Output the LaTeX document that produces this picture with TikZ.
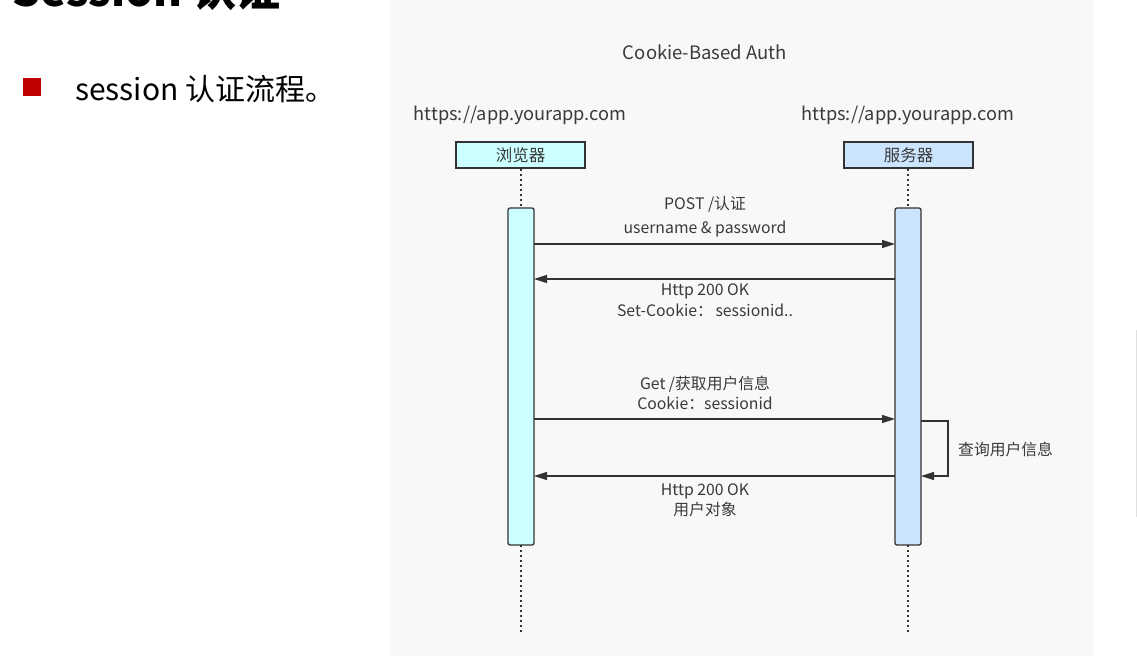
\documentclass[tikz,border=0pt]{standalone}
\usepackage{fontspec}
\setmainfont{Noto Sans CJK SC}
\usetikzlibrary{arrows.meta}
\definecolor{panel}{HTML}{F8F8F8}
\definecolor{ink}{HTML}{333333}
\definecolor{txt}{HTML}{3A3A3A}
\definecolor{cyanfill}{HTML}{CCFFFF}
\definecolor{bluefill}{HTML}{CCE5FF}
\definecolor{bulletred}{HTML}{C00000}
\tikzset{
  lbl/.style={text=txt, font=\fontsize{15.8}{18}\selectfont, inner sep=0pt},
  actor/.style={draw=ink, line width=1.3pt, minimum width=129pt, minimum height=26pt, inner sep=0pt, text=txt, font=\fontsize{16.5}{18}\selectfont},
  actbar/.style={draw=ink, line width=1.3pt, rounded corners=2pt},
  life/.style={draw=ink, line width=1.4pt, dash pattern=on 2pt off 3pt},
  msg/.style={draw=ink, line width=1.3pt, -{Triangle[length=13pt,width=8pt]}}
}
\begin{document}
\begin{tikzpicture}[x=1pt,y=-1pt]
\useasboundingbox (0,0) rectangle (1137,662);
\begin{scope}
\clip (0,0) rectangle (1137,662);
\fill[white] (0,0) rectangle (1137,662);
% partially visible heading
\node[anchor=base west, inner sep=0pt, font=\fontsize{44}{48}\selectfont\bfseries] (heading) at (12,6) {Session 认证};
\end{scope}
% panel
\fill[panel] (390,0) rectangle (1094,656);
\draw[draw=black!12, line width=1pt] (1136,330) -- (1136,517);
% bullet
\fill[bulletred] (23,78) rectangle (41,96);
\node[anchor=base west, inner sep=0pt, font=\fontsize{30}{34}\selectfont] (bullet) at (75,100) {session 认证流程。};
% title and hosts
\node[lbl, font=\fontsize{18.5}{20}\selectfont] (title) at (705,52) {Cookie-Based Auth};
\node[lbl, font=\fontsize{18.2}{20}\selectfont] (hostL) at (520,115) {https://app.yourapp.com};
\node[lbl, font=\fontsize{18.2}{20}\selectfont] (hostR) at (908,115) {https://app.yourapp.com};
% actors
\node[actor, fill=cyanfill] (browser) at (520.5,155) {浏览器};
\node[actor, fill=bluefill] (server) at (908.5,155) {服务器};
% activation bars
\draw[actbar, fill=cyanfill] (508,208) rectangle (534,545);
\draw[actbar, fill=bluefill] (895,208) rectangle (921,545);
\coordinate (bTop) at (521,208);
\coordinate (sTop) at (908,208);
\coordinate (bBot) at (521,545);
\coordinate (sBot) at (908,545);
\coordinate (bEnd) at (521,633);
\coordinate (sEnd) at (908,633);
% lifelines
\draw[life] (browser.south -| bTop) -- (bTop);
\draw[life] (server.south -| sTop) -- (sTop);
\draw[life] (bBot) -- (bEnd);
\draw[life] (sBot) -- (sEnd);
% message coordinates
\coordinate (m1a) at (534,244); \coordinate (m1b) at (895,244);
\coordinate (m2a) at (895,279); \coordinate (m2b) at (534,279);
\coordinate (m3a) at (534,419); \coordinate (m3b) at (895,419);
\coordinate (m4a) at (921,421); \coordinate (m4b) at (921,476);
\coordinate (m5a) at (895,476); \coordinate (m5b) at (534,476);
% messages
\draw[msg] (m1a) -- (m1b);
\node[lbl] (l1a) at (705,204) {POST /认证};
\node[lbl] (l1b) at (705,229) {username \& password};
\draw[msg] (m2a) -- (m2b);
\node[lbl] (l2a) at (705,291) {Http 200 OK};
\node[lbl] (l2b) at (705,310) {Set-Cookie：\,sessionid..};
\draw[msg] (m3a) -- (m3b);
\node[lbl] (l3a) at (705,384) {Get /获取用户信息};
\node[lbl] (l3b) at (705,403) {Cookie：sessionid};
\draw[msg] (m4a) -- (948,421) -- (948,476) -- (m4b);
\node[lbl, anchor=west] (l4) at (958,449) {查询用户信息};
\draw[msg] (m5a) -- (m5b);
\node[lbl] (l5a) at (705,491) {Http 200 OK};
\node[lbl] (l5b) at (705,509) {用户对象};
\end{tikzpicture}
\end{document}
